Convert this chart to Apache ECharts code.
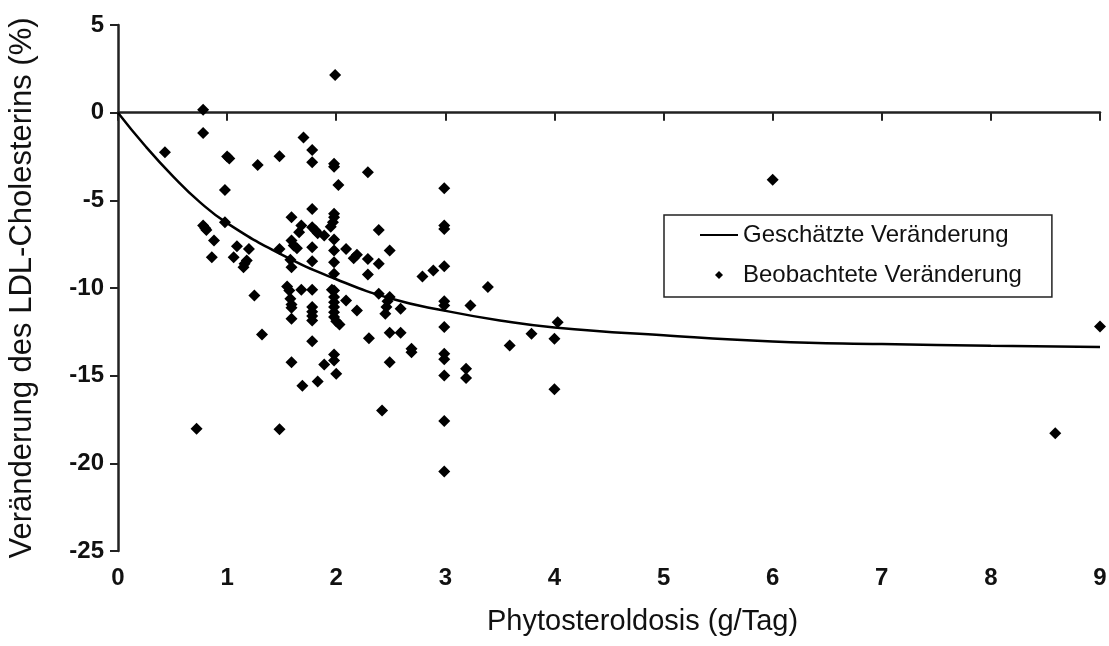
<!DOCTYPE html>
<html>
<head>
<meta charset="utf-8">
<script src="https://cdn.jsdelivr.net/npm/echarts@6/dist/echarts.min.js"></script>
<style>
html,body{margin:0;padding:0;background:#fff;}
#chart{width:1109px;height:646px;}
</style>
</head>
<body>
<div id="chart"></div>
<script>
// Observed changes (scatter): dose in g/Tag, change in %
const obsX = [0.43,0.78,0.78,1.00,1.02,1.28,1.48,1.70,1.78,1.78,1.98,1.98,2.02,0.98,0.78,0.80,0.81,0.98,0.88,0.86,
  1.09,1.06,1.20,1.18,1.16,1.15,1.48,1.59,1.59,1.61,1.64,1.58,1.59,1.68,1.66,1.78,1.78,1.81,1.83,1.89,
  1.78,1.78,1.98,1.98,1.97,1.95,1.98,1.98,1.98,2.09,1.98,1.55,1.57,1.68,1.78,1.96,1.98,2.09,1.25,1.58,
  1.59,1.59,1.59,1.78,1.78,1.78,1.78,1.98,1.98,1.98,1.98,1.98,2.00,2.03,1.32,1.78,1.59,1.89,1.98,1.98,
  2.00,1.69,1.83,0.72,1.48,2.29,2.99,2.39,2.99,2.99,2.16,2.19,2.29,2.39,2.49,2.29,2.79,2.89,2.99,3.39,
  2.19,2.39,2.49,2.47,2.46,2.45,2.59,2.99,2.99,3.23,2.99,2.30,2.49,2.59,2.69,2.69,2.49,2.99,2.99,2.99,
  3.19,3.19,2.42,2.99,2.99,3.59,3.79,4.03,4.00,4.00,6.00,8.59,9.00,1.99];
const obsY = [-2.26,0.17,-1.16,-2.50,-2.62,-2.98,-2.49,-1.41,-2.13,-2.83,-2.92,-3.08,-4.12,-4.41,-6.44,-6.59,-6.69,-6.25,-7.29,-8.24,
  -7.62,-8.24,-7.77,-8.43,-8.62,-8.81,-7.77,-5.96,-7.29,-7.58,-7.73,-8.39,-8.81,-6.44,-6.82,-5.49,-6.53,-6.72,-6.88,-7.01,
  -7.67,-8.47,-5.77,-5.96,-6.25,-6.50,-7.24,-7.86,-8.53,-7.77,-9.19,-9.91,-10.14,-10.10,-10.10,-10.10,-10.14,-10.71,-10.43,-10.62,
  -10.94,-11.13,-11.75,-11.09,-11.35,-11.60,-11.85,-10.52,-10.81,-11.09,-11.38,-11.66,-11.89,-12.08,-12.65,-13.03,-14.23,-14.36,-13.79,-14.13,
  -14.89,-15.57,-15.33,-18.03,-18.06,-3.40,-4.31,-6.69,-6.44,-6.63,-8.30,-8.11,-8.34,-8.62,-7.86,-9.23,-9.34,-9.00,-8.76,-9.95,
  -11.28,-10.33,-10.52,-10.75,-11.09,-11.47,-11.19,-10.75,-11.00,-11.00,-12.23,-12.86,-12.55,-12.55,-13.47,-13.66,-14.23,-13.75,-14.07,-14.99,
  -14.61,-15.14,-16.98,-17.59,-20.46,-13.28,-12.61,-11.95,-12.90,-15.78,-3.82,-18.29,-12.19,2.15];

// Estimated change (curve)
const estX = [0,0.25,0.5,0.75,1,1.5,2,2.5,3,3.5,4,5,6,7,8,9];
const estY = [0,-1.9,-3.6,-5.1,-6.3,-8.1,-9.5,-10.6,-11.3,-11.85,-12.25,-12.7,-13.05,-13.2,-13.3,-13.37];

const xTicks = [0,1,2,3,4,5,6,7,8,9];
const yTicks = [-25,-20,-15,-10,-5,0,5];

const seriesNames = ['Geschätzte Veränderung','Beobachtete Veränderung'];
const xTitle = 'Phytosteroldosis (g/Tag)';
const yTitle = 'Veränderung des LDL-Cholesterins (%)';

const FONT = '"Liberation Sans", Arial, sans-serif';

const chart = echarts.init(document.getElementById('chart'), null, {renderer:'canvas'});
chart.setOption({
  animation:false,
  backgroundColor:'#fff',
  grid:{left:118,right:9,top:25,bottom:95,containLabel:false,outerBoundsMode:'none'},
  legend:{
    orient:'vertical',
    left:664, top:215,
    padding:[7,30,9,36],
    backgroundColor:'#fff',
    borderColor:'#222', borderWidth:1.5,
    itemWidth:38, itemHeight:8, itemGap:14,
    textStyle:{fontFamily:FONT,fontSize:24,color:'#111',lineHeight:26},
    data:[
      {name:seriesNames[0], icon:'path://M0,0L40,0L40,2L0,2Z', itemStyle:{color:'#000',opacity:1}},
      {name:seriesNames[1], icon:'path://M5,0L10,5L5,10L0,5Z', itemStyle:{color:'#000',opacity:1}}
    ]
  },
  xAxis:[
    {type:'value', min:0, max:9, interval:1, position:'bottom',
     axisLine:{show:false,onZero:false}, axisTick:{show:false}, splitLine:{show:false},
     axisLabel:{margin:15,fontFamily:FONT,fontSize:24,fontWeight:'bold',color:'#111',
       formatter:v=>xTicks.includes(v)?String(v):''}},
    {type:'value', min:0, max:9, interval:1, position:'top',
     axisLine:{show:true,onZero:true,lineStyle:{color:'#222',width:2.5}},
     axisTick:{show:true,inside:true,length:8,lineStyle:{color:'#222',width:2}},
     axisLabel:{show:false}, splitLine:{show:false}}
  ],
  yAxis:{type:'value', min:-25, max:5, interval:5,
    axisLine:{show:true,onZero:false,lineStyle:{color:'#222',width:2.5}},
    axisTick:{show:true,length:8,lineStyle:{color:'#222',width:2}},
    splitLine:{show:false},
    axisLabel:{margin:14,fontFamily:FONT,fontSize:24,fontWeight:'bold',color:'#111',
      formatter:v=>yTicks.includes(v)?String(v):''},
    name:yTitle, nameLocation:'middle', nameGap:80, nameRotate:90,
    nameTextStyle:{fontFamily:FONT,fontSize:31,color:'#111'}
  },
  graphic:[
    {type:'text', left:487, top:607, style:{text:xTitle, font:'29px "Liberation Sans", Arial, sans-serif', fill:'#111'}}
  ],
  series:[
    {name:seriesNames[0], type:'line', xAxisIndex:0, smooth:true, showSymbol:false,
     lineStyle:{color:'#000',width:2.5}, itemStyle:{color:'#000'},
     data:estX.map((x,i)=>[x,estY[i]])},
    {name:seriesNames[1], type:'scatter', xAxisIndex:0, symbol:'diamond', symbolSize:12, clip:false,
     itemStyle:{color:'#000',opacity:1},
     data:obsX.map((x,i)=>[x,obsY[i]])}
  ]
});
</script>
</body>
</html>
